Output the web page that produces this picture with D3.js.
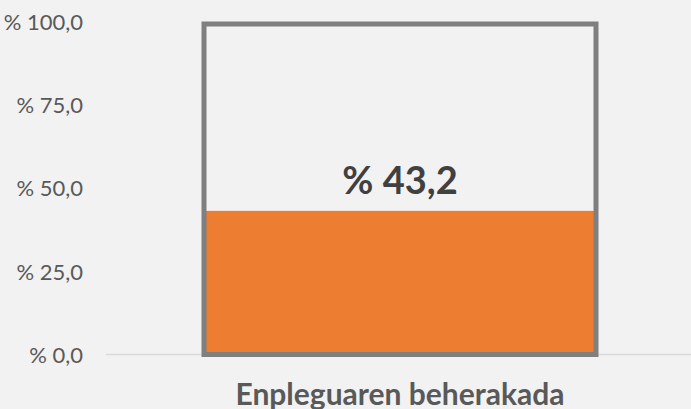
<!DOCTYPE html>
<html>
<head>
<meta charset="utf-8">
<script src="https://cdn.jsdelivr.net/npm/d3@7"></script>
<style>
  html, body { margin: 0; padding: 0; background: #f2f2f2; }
  svg { display: block; font-family: "Lato", sans-serif; }
</style>
</head>
<body>
<svg></svg>
<script>
const categories = ["Enpleguaren beherakada"];
const values = [43.2];
const totals = [100];
const tickValues = [0, 25, 50, 75, 100];

const width = 691;
const height = 409;

const svg = d3.select("svg").attr("width", width).attr("height", height);

svg.append("rect").attr("width", width).attr("height", height).attr("fill", "#f2f2f2");

const xScale = d3.scaleBand().domain(categories).range([106, 694]).padding(0.2);
const yScale = d3.scaleLinear().domain([0, 100]).range([354.5, 22]);

const fmt = (v) => "% " + v.toFixed(1).replace(".", ",");

// gridline at zero
svg.append("line")
  .attr("x1", 106).attr("x2", width)
  .attr("y1", yScale(0)).attr("y2", yScale(0))
  .attr("stroke", "#d9d9d9").attr("stroke-width", 1.5);

// y axis labels
const yAxis = d3.axisLeft(yScale).tickValues(tickValues).tickFormat(fmt).tickSize(0).tickPadding(0);
const gy = svg.append("g").attr("transform", "translate(83,0)").call(yAxis);
gy.select(".domain").remove();
gy.selectAll("text")
  .attr("fill", "#595959")
  .style("font-family", "Lato, sans-serif")
  .style("font-size", "22px")
  .attr("dy", "0.35em");

// orange value bar
svg.selectAll(".value")
  .data(values)
  .enter()
  .append("rect")
  .attr("class", "value")
  .attr("x", (d, i) => xScale(categories[i]))
  .attr("width", xScale.bandwidth())
  .attr("y", (d) => yScale(d))
  .attr("height", (d) => yScale(0) - 1 - yScale(d))
  .attr("fill", "#ed7d31");

// grey outline for 100%
svg.selectAll(".total")
  .data(totals)
  .enter()
  .append("rect")
  .attr("class", "total")
  .attr("x", (d, i) => xScale(categories[i]))
  .attr("width", xScale.bandwidth())
  .attr("y", (d) => yScale(d) + 2)
  .attr("height", (d) => yScale(0) - yScale(d) - 2)
  .attr("fill", "none")
  .attr("stroke", "#7f7f7f")
  .attr("stroke-width", 5);

// value label
svg.selectAll(".label")
  .data(values)
  .enter()
  .append("text")
  .attr("class", "label")
  .attr("x", (d, i) => xScale(categories[i]) + xScale.bandwidth() / 2)
  .attr("y", 194)
  .attr("text-anchor", "middle")
  .attr("fill", "#404040")
  .style("font-family", "Lato, sans-serif")
  .style("font-size", "38px")
  .style("font-weight", "bold")
  .text((d) => fmt(d));

// category axis
const xAxis = d3.axisBottom(xScale).tickSize(0).tickPadding(0);
const gx = svg.append("g").attr("transform", "translate(0,405)").call(xAxis);
gx.select(".domain").remove();
gx.selectAll("text")
  .attr("y", 0)
  .attr("dy", 0)
  .attr("fill", "#595959")
  .style("font-family", "Lato, sans-serif")
  .style("font-size", "30px")
  .style("font-weight", "bold");
</script>
</body>
</html>
